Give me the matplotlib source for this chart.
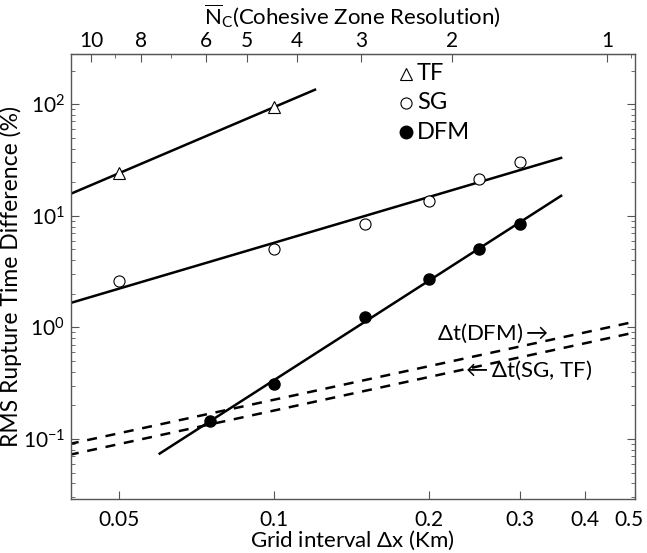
import numpy as np
import matplotlib
matplotlib.use("Agg")
from matplotlib import pyplot as plt
from matplotlib.transforms import ScaledTranslation

plt.rcParams['font.family'] = ['Lato', 'DejaVu Sans']
plt.rcParams['mathtext.fontset'] = 'custom'
plt.rcParams['mathtext.rm'] = 'Lato'
plt.rcParams['mathtext.it'] = 'Lato:italic'

# grid interval (km) and RMS rupture time difference (%)
tf_dx = [0.05, 0.1]
tf_err = [24.0, 94.0]
sg_dx = [0.05, 0.1, 0.15, 0.2, 0.25, 0.3]
sg_err = [2.6, 5.0, 8.5, 13.5, 21.5, 30.0]
dfm_dx = [0.075, 0.1, 0.15, 0.2, 0.25, 0.3]
dfm_err = [0.145, 0.31, 1.25, 2.7, 5.0, 8.5]

# x ranges of the fitted power laws
tf_fit_x = [0.04, 0.12]
sg_fit_x = [0.04, 0.36]
dfm_fit_x = [0.06, 0.36]

# time step lines, % per km
dt_x = [0.04, 0.5]
dt_dfm_coef = 2.25
dt_sg_coef = 1.8

nc_scale = 0.442  # Nc = nc_scale / dx
nc_ticks = [10, 8, 6, 5, 4, 3, 2, 1]
nc_minor = [9, 7, 0.9]
x_ticks = [0.05, 0.1, 0.2, 0.3, 0.4, 0.5]
x_labels = ['0.05', '0.1', '0.2', '0.3', '0.4', '0.5']

fig = plt.figure(figsize=(6.47, 5.53), dpi=100)
ax = fig.add_axes([0.109, 0.0976, 0.872, 0.8044])
ax.set_xscale('log')
ax.set_yscale('log')


def fit_line(xs, ys, xr):
    p = np.polyfit(np.log10(xs), np.log10(ys), 1)
    xr = np.array(xr)
    return xr, 10 ** np.polyval(p, np.log10(xr))


for xs, ys, xr in [(tf_dx, tf_err, tf_fit_x), (sg_dx, sg_err, sg_fit_x),
                   (dfm_dx, dfm_err, dfm_fit_x)]:
    lx, ly = fit_line(xs, ys, xr)
    ax.plot(lx, ly, color='black', lw=1.8, zorder=2)

ax.plot(tf_dx, tf_err, '^', mfc='white', mec='black', ms=8, mew=0.8, zorder=3)
ax.plot(sg_dx, sg_err, 'o', mfc='white', mec='black', ms=8, mew=0.8, zorder=3)
ax.plot(dfm_dx, dfm_err, 'o', mfc='black', mec='black', ms=8, zorder=3)

dtx = np.array(dt_x)
ax.plot(dtx, dt_dfm_coef * dtx, '--', color='black', lw=1.8, dashes=(4, 3.5))
ax.plot(dtx, dt_sg_coef * dtx, '--', color='black', lw=1.8, dashes=(4, 3.5))

ax.set_xlim(0.0403, 0.5)
ax.set_ylim(0.029, 280)

ax.set_xticks(x_ticks)
ax.set_xticklabels(x_labels)
ax.xaxis.set_minor_locator(matplotlib.ticker.NullLocator())
ax.tick_params(axis='both', which='both', direction='in', labelsize=15,
               color='#555555')
ax.tick_params(axis='x', which='major', length=6, pad=8)
ax.tick_params(axis='y', which='major', length=6, right=True, pad=4)
ax.tick_params(axis='y', which='minor', length=3, right=True)
for s in ax.spines.values():
    s.set_color('#555555')
    s.set_linewidth(1.0)

# nudge the last bottom label so it stays inside the figure
last = ax.get_xticklabels()[-1]
last.set_transform(last.get_transform() + ScaledTranslation(-4 / 72, 0, fig.dpi_scale_trans))

ax.set_xlabel(r'Grid interval $\Delta$x (Km)', fontsize=16, labelpad=-1)
ax.set_ylabel('RMS Rupture Time Difference (%)', fontsize=16.5)
ax.yaxis.set_label_coords(-0.086, 0.5)

sec = ax.secondary_xaxis('top', functions=(lambda x: nc_scale / x,
                                           lambda n: nc_scale / n))
sec.set_xticks(nc_ticks)
sec.set_xticklabels([str(n) for n in nc_ticks])
sec.set_xticks(nc_minor, minor=True)
sec.tick_params(which='both', direction='in', labelsize=15, color='#555555', pad=2)
sec.tick_params(which='major', length=6)
sec.tick_params(which='minor', length=3)
sec.spines['top'].set_color('#555555')
sec.set_xlabel(r'$\overline{\mathrm{N}}_\mathrm{C}$(Cohesive Zone Resolution)',
               fontsize=16, labelpad=5)

# legend drawn as marker + text
leg_x = 0.18
ax.plot([leg_x], [188], '^', mfc='white', mec='black', ms=8, mew=0.8)
ax.plot([leg_x], [103], 'o', mfc='white', mec='black', ms=8, mew=0.8)
ax.plot([leg_x], [56], 'o', mfc='black', mec='black', ms=9)
ax.text(0.189, 188, 'TF', fontsize=17, va='center')
ax.text(0.189, 103, 'SG', fontsize=17, va='center')
ax.text(0.189, 56, 'DFM', fontsize=17, va='center')

ax.text(0.207, 0.88, r'$\Delta$t(DFM)$\rightarrow$', fontsize=16, va='center')
ax.text(0.231, 0.41, r'$\leftarrow\Delta$t(SG, TF)', fontsize=16, va='center')

fig.savefig('out.png', dpi=100)
